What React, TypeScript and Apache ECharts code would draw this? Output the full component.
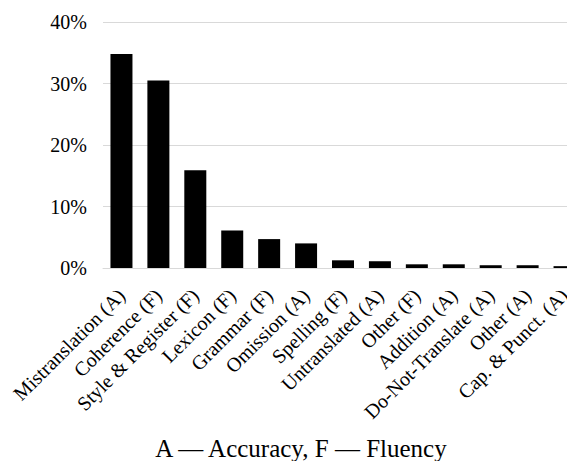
import React, { useEffect, useRef } from "react";
import * as echarts from "echarts";

const categories = [
  "Mistranslation (A)",
  "Coherence (F)",
  "Style & Register (F)",
  "Lexicon (F)",
  "Grammar (F)",
  "Omission (A)",
  "Spelling (F)",
  "Untranslated (A)",
  "Other (F)",
  "Addition (A)",
  "Do-Not-Translate (A)",
  "Other (A)",
  "Cap. & Punct. (A)",
];
const values = [34.8, 30.5, 15.9, 6.1, 4.7, 4.0, 1.25, 1.1, 0.6, 0.6, 0.45, 0.45, 0.3];
const yTicks = [0, 10, 20, 30, 40];
const caption = "A \u2014 Accuracy, F \u2014 Fluency";

const FONT = '"Liberation Serif", "Times New Roman", serif';

export default function App() {
  const ref = useRef<HTMLDivElement>(null);
  useEffect(() => {
    document.body.style.margin = "0";
    document.body.style.overflow = "hidden";
    document.documentElement.style.overflow = "hidden";
    const chart = echarts.init(ref.current!, undefined, { renderer: "svg" });
    chart.setOption({
      animation: false,
      backgroundColor: "#ffffff",
      textStyle: { fontFamily: FONT },
      grid: { left: 103, right: 0, top: 22, bottom: 193, containLabel: false },
      xAxis: {
        type: "category",
        data: categories,
        axisTick: { show: false },
        axisLine: { lineStyle: { color: "#d9d9d9", width: 1 } },
        axisLabel: {
          interval: 0,
          rotate: 45,
          margin: 24,
          color: "#000",
          fontSize: 20,
          fontFamily: FONT,
        },
      },
      yAxis: {
        type: "value",
        min: yTicks[0],
        max: yTicks[yTicks.length - 1],
        interval: 10,
        axisLine: { show: false },
        axisTick: { show: false },
        splitLine: { lineStyle: { color: "#d9d9d9", width: 1 } },
        axisLabel: {
          formatter: "{value}%",
          color: "#000",
          fontSize: 20,
          margin: 16,
          fontFamily: FONT,
        },
      },
      series: [
        {
          type: "bar",
          data: values,
          barWidth: 22,
          itemStyle: { color: "#000" },
        },
      ],
      graphic: [
        {
          type: "text",
          x: 301,
          y: 448,
          style: {
            text: caption,
            fill: "#000",
            font: `25px ${FONT}`,
            textAlign: "center",
            textVerticalAlign: "middle",
          },
        },
      ],
    });
    return () => chart.dispose();
  }, []);
  return (
    <div style={{ width: 567, height: 461, overflow: "hidden" }}>
      <div ref={ref} style={{ width: 583, height: 461 }} />
    </div>
  );
}
